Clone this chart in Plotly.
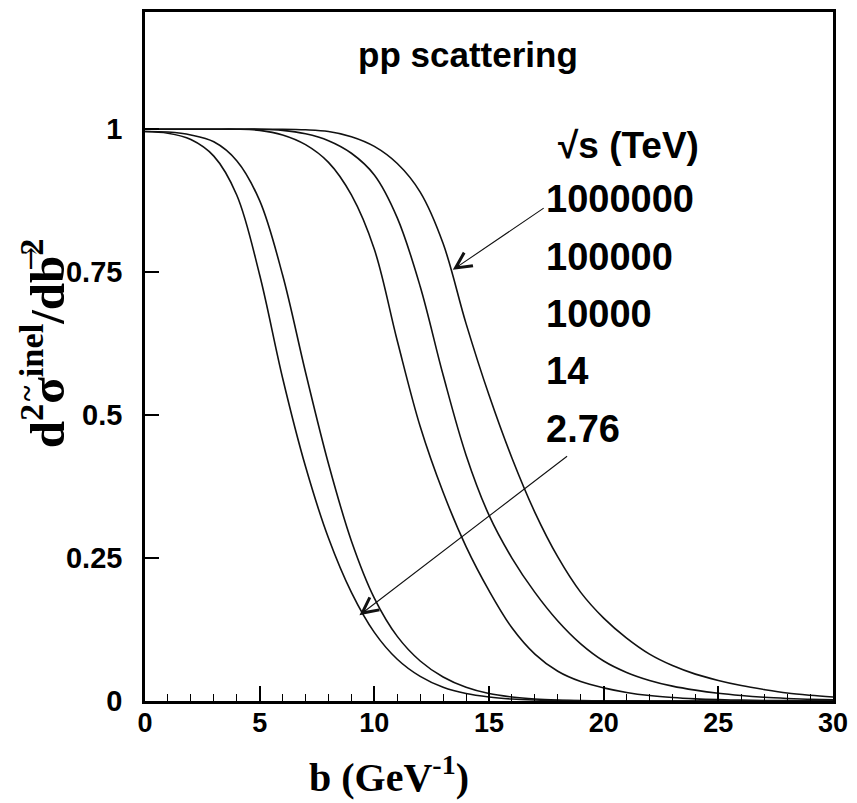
import plotly.graph_objects as go

# impact parameter b (GeV^-1)
b_vals = list(range(31))

# d2 sigma_inel / d b^2, one list per sqrt(s)
c_2p76 = [0.996, 0.993, 0.982, 0.953, 0.885, 0.745, 0.565, 0.41, 0.285, 0.19,
          0.12, 0.073, 0.043, 0.024, 0.013, 0.007, 0.0035, 0.0017, 0.0008, 0.0004,
          0.0002, 0.0001, 0.0, 0.0, 0.0, 0.0, 0.0, 0.0, 0.0, 0.0, 0.0]
c_14 = [0.996, 0.995, 0.99, 0.978, 0.945, 0.875, 0.745, 0.575, 0.415, 0.28,
        0.18, 0.113, 0.07, 0.042, 0.024, 0.013, 0.007, 0.0035, 0.0017, 0.0008,
        0.0004, 0.0002, 0.0001, 0.0, 0.0, 0.0, 0.0, 0.0, 0.0, 0.0, 0.0]
c_1e4 = [1.0, 1.0, 1.0, 1.0, 1.0, 0.998, 0.99, 0.973, 0.942, 0.885,
         0.79, 0.63, 0.48, 0.365, 0.27, 0.193, 0.128, 0.082, 0.052, 0.034,
         0.023, 0.015, 0.0095, 0.006, 0.0038, 0.0024, 0.0015, 0.001, 0.0006, 0.0004, 0.0003]
c_1e5 = [1.0, 1.0, 1.0, 1.0, 1.0, 1.0, 0.998, 0.992, 0.98, 0.958,
         0.92, 0.845, 0.725, 0.57, 0.43, 0.325, 0.25, 0.19, 0.14, 0.1,
         0.07, 0.05, 0.036, 0.026, 0.019, 0.0135, 0.0095, 0.0065, 0.0045, 0.003, 0.002]
c_1e6 = [1.0, 1.0, 1.0, 1.0, 1.0, 1.0, 1.0, 0.999, 0.996, 0.987,
         0.97, 0.94, 0.89, 0.8, 0.66, 0.535, 0.425, 0.33, 0.252, 0.19,
         0.145, 0.11, 0.082, 0.062, 0.047, 0.036, 0.027, 0.02, 0.014, 0.01, 0.007]

series = [c_2p76, c_14, c_1e4, c_1e5, c_1e6]
energy_labels = ["1000000", "100000", "10000", "14", "2.76"]
label_y = [0.8776, 0.7766, 0.677, 0.5764, 0.4754]

fig = go.Figure()
for s in series:
    fig.add_trace(go.Scatter(x=b_vals, y=s, mode="lines",
                             line=dict(color="#111111", width=1.6, shape="spline", smoothing=1.0),
                             showlegend=False, hoverinfo="skip"))

bold_sans = dict(family="Liberation Sans, Arial, sans-serif", color="black", weight="bold")

# labels
fig.add_annotation(x=14.1, y=1.13, xref="x", yref="y", text="pp scattering",
                   showarrow=False, xanchor="center", yanchor="middle",
                   font=dict(size=35, **bold_sans))
fig.add_annotation(x=21.1, y=0.9716, xref="x", yref="y", text="√s (TeV)",
                   showarrow=False, xanchor="center", yanchor="middle",
                   font=dict(size=37, **bold_sans))
for lab, ly in zip(energy_labels, label_y):
    fig.add_annotation(x=17.4, y=ly, xref="x", yref="y", text=lab,
                       showarrow=False, xanchor="left", yanchor="middle",
                       font=dict(size=38, **bold_sans))

# arrows
fig.add_annotation(x=13.42, y=0.754, ax=17.45, ay=0.8637, xref="x", yref="y",
                   axref="x", ayref="y", text="", showarrow=True,
                   arrowhead=5, arrowsize=2.8, arrowwidth=1.1, arrowcolor="#111111", standoff=0)
fig.add_annotation(x=9.35, y=0.150, ax=18.47, ay=0.430, xref="x", yref="y",
                   axref="x", ayref="y", text="", showarrow=True,
                   arrowhead=5, arrowsize=2.8, arrowwidth=1.1, arrowcolor="#111111", standoff=0)

# axis titles
bold_serif = dict(family="Liberation Serif, Times New Roman, serif", color="black", weight="bold")
fig.add_annotation(x=0.354, y=-0.106, xref="paper", yref="paper",
                   text="b (GeV<sup>-1</sup>)", showarrow=False,
                   xanchor="center", yanchor="middle", font=dict(size=40, **bold_serif))
fig.add_annotation(x=-0.147, y=0.519, xref="paper", yref="paper",
                   text="d<sup>2</sup>σ<sup>inel</sup>/db<sup>2</sup>",
                   showarrow=False, textangle=-90,
                   xanchor="center", yanchor="middle", font=dict(size=49, **bold_serif))
# tilde over sigma and vector arrow over b
fig.add_annotation(x=-0.173, y=0.4465, xref="paper", yref="paper", text="~",
                   showarrow=False, textangle=-90, xanchor="center", yanchor="middle",
                   font=dict(size=30, **bold_serif))
fig.add_annotation(x=-0.166, y=0.642, xref="paper", yref="paper", text="→",
                   showarrow=False, textangle=-90, xanchor="center", yanchor="middle",
                   font=dict(size=28, family="DejaVu Serif", color="black"))

fig.update_layout(
    width=857, height=803,
    margin=dict(l=145, r=19, t=9, b=102),
    paper_bgcolor="white", plot_bgcolor="white",
    showlegend=False,
)
fig.update_xaxes(range=[0, 30], tickmode="array", tickvals=[0, 5, 10, 15, 20, 25, 30],
                 ticktext=["0", "5", "10", "15", "20", "25", "30"],
                 ticks="inside", ticklen=15, tickwidth=1.5, tickcolor="black",
                 minor=dict(ticks="inside", ticklen=7, tickwidth=1.2, tickcolor="black", dtick=1),
                 showgrid=False, zeroline=False, showline=True, linewidth=2.5,
                 linecolor="black", mirror=True, ticklabelstandoff=-4,
                 tickfont=dict(size=27, **bold_sans))
fig.update_yaxes(range=[0, 1.205], tickmode="array", tickvals=[0, 0.25, 0.5, 0.75, 1],
                 ticktext=["0", "0.25", "0.5", "0.75", "1"],
                 ticks="inside", ticklen=14, tickwidth=1.5, tickcolor="black",
                 showgrid=False, zeroline=False, showline=True, linewidth=2.5,
                 linecolor="black", mirror=True, ticklabelstandoff=14,
                 tickfont=dict(size=29, **bold_sans))

fig.write_html("out.html")
